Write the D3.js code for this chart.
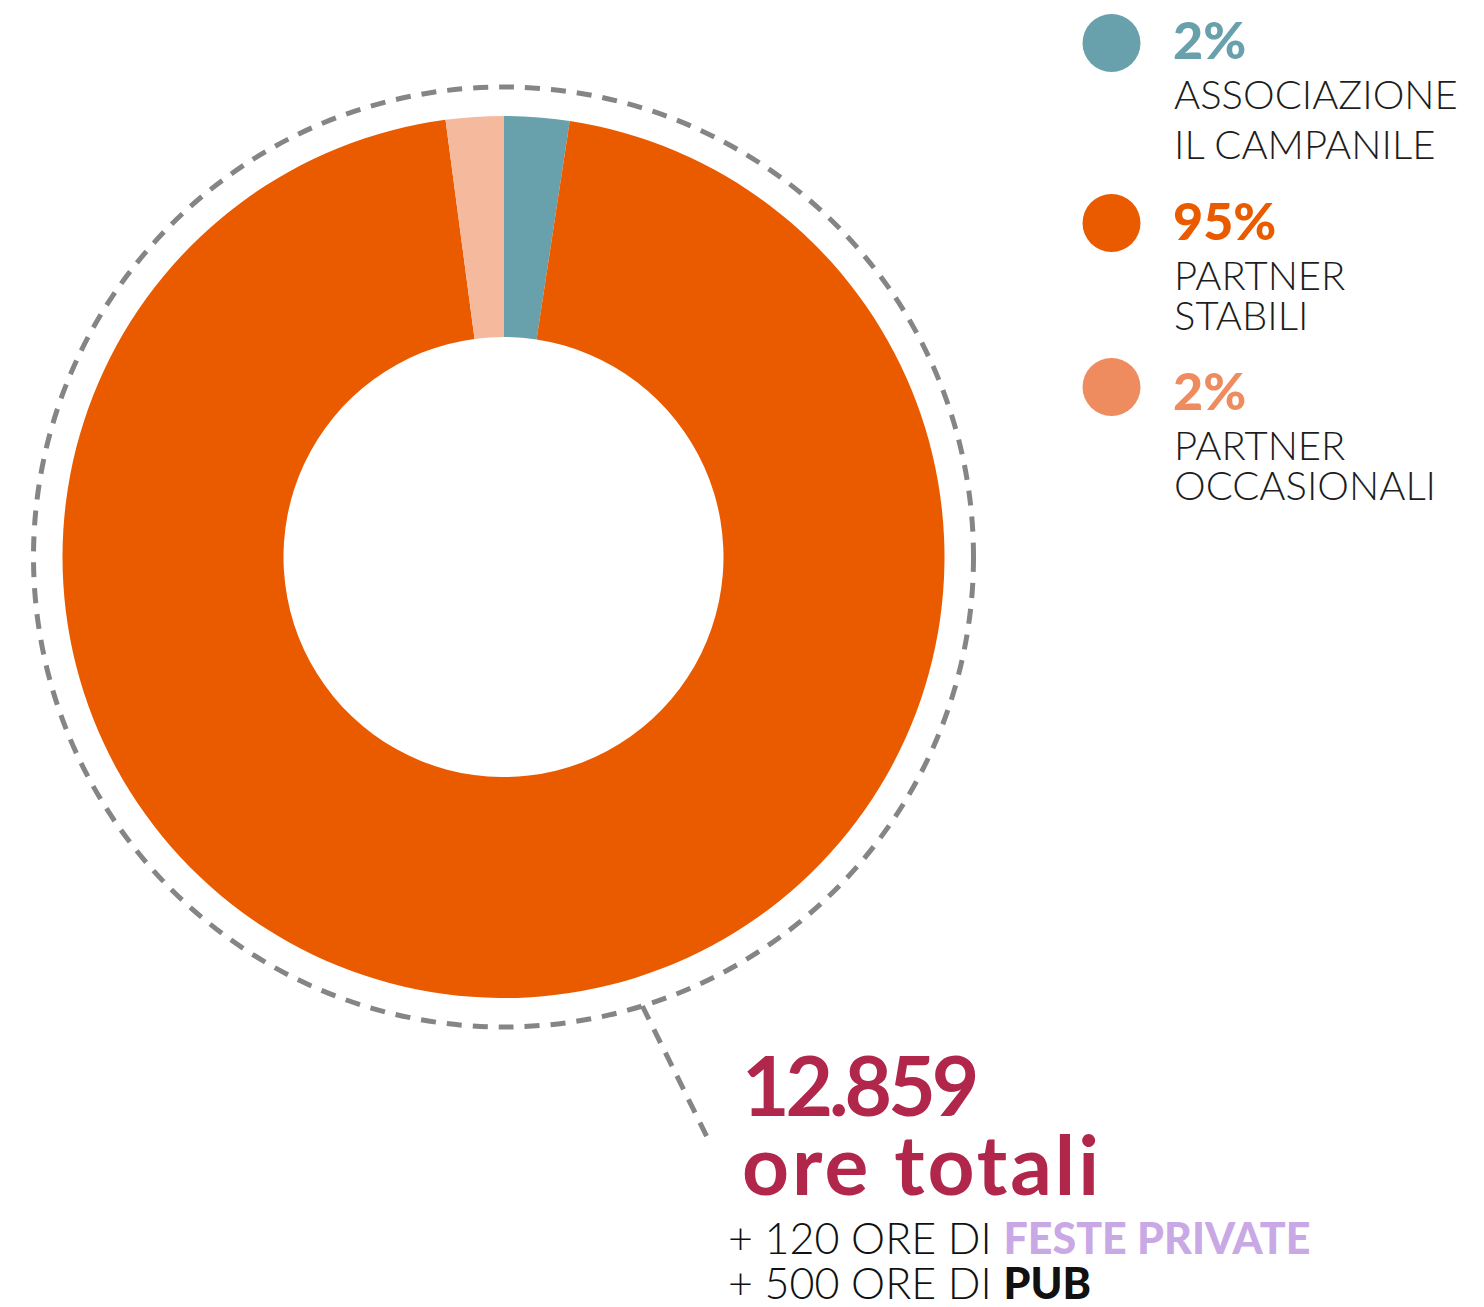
<!DOCTYPE html>
<html>
<head>
<meta charset="utf-8">
<script src="https://cdn.jsdelivr.net/npm/d3@7"></script>
<style>
  html, body { margin: 0; padding: 0; background: #fff; }
  svg { display: block; }
</style>
</head>
<body>
<div id="chart"></div>
<script>
// slice shares as drawn in the donut (clockwise from 12 o'clock)
var categories = ["Associazione Il Campanile", "Partner stabili", "Partner occasionali"];
var shares = [2.4, 95.5, 2.1];
var pctLabels = ["2%", "95%", "2%"];
var nameLines = [["ASSOCIAZIONE", "IL CAMPANILE"], ["PARTNER", "STABILI"], ["PARTNER", "OCCASIONALI"]];
var totalLabel = ["12.859", "ore totali"];
var extraLabels = [
  { pre: "+ 120 ORE DI ", hi: "FESTE PRIVATE" },
  { pre: "+ 500 ORE DI ", hi: "PUB" }
];

var W = 1484, H = 1307;
var cx = 503.5, cy = 557;
var rOuter = 441, rInner = 220, rDash = 470;

var sliceColor = d3.scaleOrdinal().domain(categories).range(["#68a0ac", "#ea5b00", "#f5b99d"]);
var legendColor = d3.scaleOrdinal().domain(categories).range(["#68a0ac", "#ea5b00", "#ee8c5f"]);

var svg = d3.select("#chart").append("svg")
  .attr("width", W)
  .attr("height", H);

// donut
var pie = d3.pie().sort(null).value(function (d) { return d; });
var arc = d3.arc().innerRadius(rInner).outerRadius(rOuter);

var g = svg.append("g").attr("transform", "translate(" + cx + "," + cy + ")");
g.selectAll("path.slice")
  .data(pie(shares))
  .enter()
  .append("path")
  .attr("class", "slice")
  .attr("d", arc)
  .attr("fill", function (d, i) { return sliceColor(categories[i]); });

// dashed ring around the donut
g.append("circle")
  .attr("r", rDash)
  .attr("fill", "none")
  .attr("stroke", "#858585")
  .attr("stroke-width", 5)
  .attr("stroke-dasharray", "15 11");

// dashed leader towards the total
var leadAngle = Math.atan2(451, 139.5);
g.append("line")
  .attr("x1", rDash * Math.cos(leadAngle))
  .attr("y1", rDash * Math.sin(leadAngle))
  .attr("x2", 710 - cx)
  .attr("y2", 1143 - cy)
  .attr("stroke", "#858585")
  .attr("stroke-width", 5)
  .attr("stroke-dasharray", "15 11");

// legend
var legendPos = [
  { cy: 43, pct: 59, lines: [109, 159] },
  { cy: 223, pct: 240, lines: [290, 330] },
  { cy: 387, pct: 410, lines: [460, 500] }
];
var legend = svg.append("g").attr("class", "legend");
categories.forEach(function (c, i) {
  var p = legendPos[i];
  legend.append("circle")
    .attr("cx", 1111.5)
    .attr("cy", p.cy)
    .attr("r", 29)
    .attr("fill", legendColor(c));
  legend.append("text")
    .attr("x", 1173)
    .attr("y", p.pct)
    .attr("fill", legendColor(c))
    .style("font-family", "Lato")
    .style("font-weight", 900)
    .style("font-size", "52px")
    .text(pctLabels[i]);
  nameLines[i].forEach(function (t, j) {
    legend.append("text")
      .attr("x", 1174)
      .attr("y", p.lines[j])
      .attr("fill", "#1d1d1d")
      .style("font-family", "Lato")
      .style("font-weight", 300)
      .style("font-size", "40px")
      .text(t);
  });
});

// total
var totals = svg.append("g").attr("class", "totals");
totals.selectAll("text.total")
  .data(totalLabel)
  .enter()
  .append("text")
  .attr("class", "total")
  .attr("x", 742)
  .attr("y", function (d, i) { return 1116 + i * 79; })
  .attr("fill", "#b1274b")
  .style("font-family", "Lato")
  .style("font-weight", 700)
  .style("font-size", "82px")
  .style("letter-spacing", function (d, i) { return i === 0 ? "-4px" : "3px"; })
  .text(function (d) { return d; });

var extra = totals.selectAll("text.extra")
  .data(extraLabels)
  .enter()
  .append("text")
  .attr("class", "extra")
  .attr("x", 728)
  .attr("y", function (d, i) { return 1254 + i * 45; })
  .style("font-family", "Lato")
  .style("font-size", "43px");
extra.append("tspan")
  .attr("fill", "#111")
  .style("font-weight", 300)
  .text(function (d) { return d.pre; });
extra.append("tspan")
  .attr("fill", function (d, i) { return i === 0 ? "#c9a8e6" : "#111"; })
  .style("font-weight", 900)
  .text(function (d) { return d.hi; });
</script>
</body>
</html>
